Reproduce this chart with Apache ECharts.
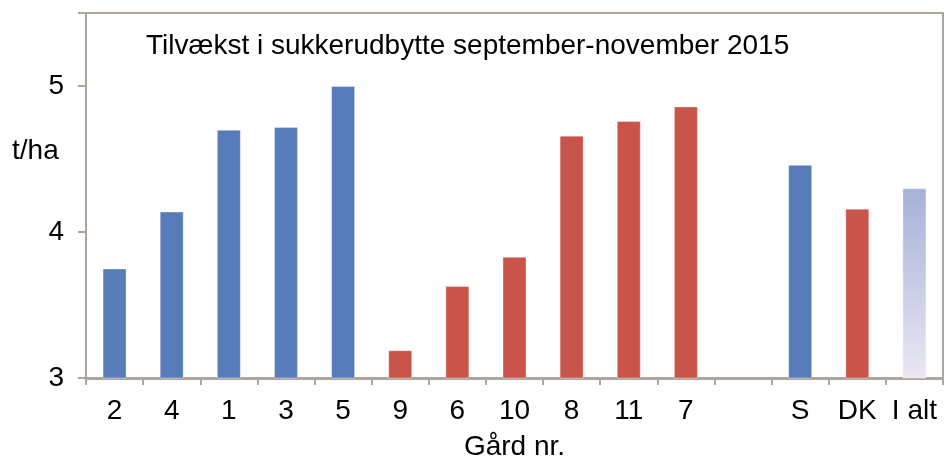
<!DOCTYPE html>
<html>
<head>
<meta charset="utf-8">
<script src="https://cdn.jsdelivr.net/npm/echarts@6/dist/echarts.min.js"></script>
<style>
  html, body { margin: 0; padding: 0; background: #fff; }
  #chart { width: 944px; height: 461px; }
</style>
</head>
<body>
<div id="chart"></div>
<script>
// Tilvækst i sukkerudbytte, t/ha
const categories = ['2', '4', '1', '3', '5', '9', '6', '10', '8', '11', '7', '', 'S', 'DK', 'I alt']
const values = [3.75, 4.14, 4.70, 4.72, 5.00, 3.19, 3.63, 3.83, 4.66, 4.76, 4.86, null, 4.46, 4.16, 4.30]
// gruppe: s = blå, dk = rød, alt = gradient
const groups = ['s', 's', 's', 's', 's', 'dk', 'dk', 'dk', 'dk', 'dk', 'dk', '', 's', 'dk', 'alt']
const yTicks = [3, 4, 5]

const blue = '#587cba'
const red = '#c9544a'
const axisColor = '#b0a59d'
const font = 'Liberation Sans, Arial, sans-serif'

const altGradient = new echarts.graphic.LinearGradient(0, 0, 0, 1, [
  { offset: 0, color: '#a6b1d9' },
  { offset: 1, color: '#e9e8f3' }
])

const barData = values.map((v, i) => {
  if (v === null) return '-'
  let color = groups[i] === 's' ? blue : groups[i] === 'dk' ? red : altGradient
  return { value: v, itemStyle: { color: color } }
})

let myChart = echarts.init(document.getElementById('chart'), null, { renderer: 'canvas' })
const options = {
  animation: false,
  textStyle: { fontFamily: font },
  grid: {
    left: 86,
    right: 1,
    top: 13,
    bottom: 83,
    containLabel: false,
    outerBoundsMode: 'none',
    show: true,
    borderColor: axisColor,
    borderWidth: 2,
    backgroundColor: '#fff'
  },
  graphic: [
    {
      type: 'text',
      left: 146,
      top: 32,
      style: { text: 'Tilvækst i sukkerudbytte september-november 2015', font: '28px ' + font, fill: '#000' }
    },
    {
      type: 'text',
      left: 12,
      top: 137,
      style: { text: 't/ha', font: '28px ' + font, fill: '#000' }
    }
  ],
  xAxis: {
    type: 'category',
    data: categories,
    name: 'Gård nr.',
    nameLocation: 'middle',
    nameGap: 55,
    nameTextStyle: { fontSize: 28, color: '#000', fontFamily: font },
    axisLine: { lineStyle: { color: axisColor, width: 3 } },
    axisTick: { show: true, length: 7, lineStyle: { color: axisColor, width: 2 } },
    axisLabel: { fontSize: 28, color: '#000', margin: 19, interval: 0 }
  },
  yAxis: {
    type: 'value',
    min: 3,
    max: 5.5,
    interval: 1,
    splitLine: { show: false },
    axisLine: { show: true, lineStyle: { color: axisColor, width: 2 } },
    axisTick: { show: true, length: 8, lineStyle: { color: axisColor, width: 2 } },
    axisLabel: {
      fontSize: 28,
      color: '#000',
      margin: 22,
      formatter: v => (yTicks.indexOf(v) >= 0 ? String(v) : '')
    }
  },
  series: [{
    type: 'bar',
    data: barData,
    barWidth: '42%',
    itemStyle: { borderColor: 'rgba(255,255,255,0.35)', borderWidth: 1 }
  }]
}
options && myChart.setOption(options)
</script>
</body>
</html>
